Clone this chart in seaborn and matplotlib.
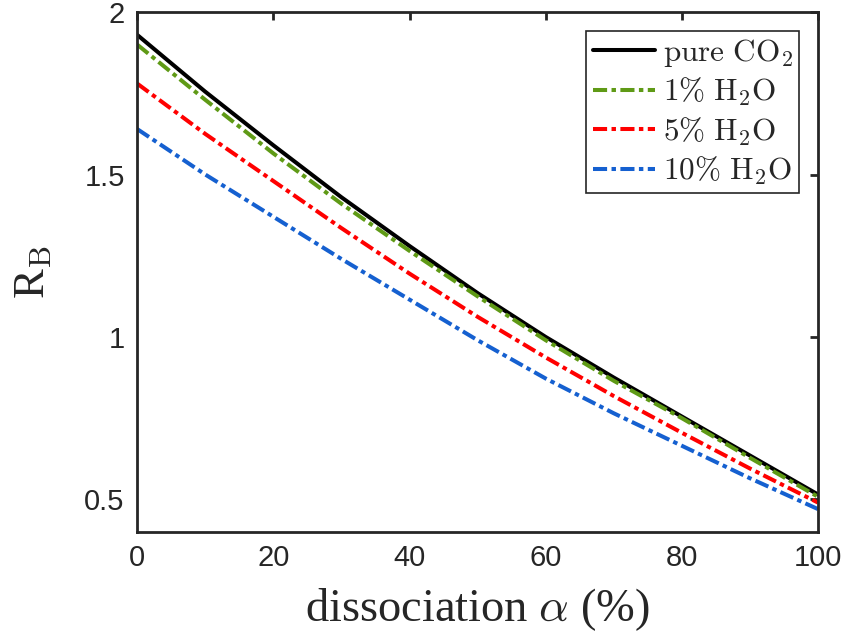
import numpy as np
import pandas as pd
import matplotlib
matplotlib.use("Agg")
import matplotlib.pyplot as plt
import seaborn as sns

alpha = [0, 10, 20, 30, 40, 50, 60, 70, 80, 90, 100]
pure_co2 = [1.93, 1.755, 1.59, 1.43, 1.28, 1.135, 1.00, 0.875, 0.755, 0.635, 0.515]
h2o_1 = [1.90, 1.73, 1.565, 1.41, 1.265, 1.125, 0.99, 0.865, 0.75, 0.628, 0.508]
h2o_5 = [1.78, 1.625, 1.48, 1.335, 1.195, 1.062, 0.937, 0.818, 0.705, 0.595, 0.49]
h2o_10 = [1.64, 1.50, 1.37, 1.24, 1.115, 0.99, 0.872, 0.765, 0.665, 0.565, 0.47]

labels = [r"$\mathrm{pure\ CO_2}$", r"$\mathrm{1\%\ H_2O}$",
          r"$\mathrm{5\%\ H_2O}$", r"$\mathrm{10\%\ H_2O}$"]
series = [pure_co2, h2o_1, h2o_5, h2o_10]
colors = ["#000000", "#5f9a16", "#ff0000", "#1560d0"]

df = pd.concat([pd.DataFrame({"alpha": alpha, "R": s, "case": lab})
                for s, lab in zip(series, labels)], ignore_index=True)

sns.set_style("white")
plt.rcParams["mathtext.fontset"] = "cm"

fig = plt.figure(figsize=(8.42, 6.4), dpi=100)
ax = fig.add_axes([0.163, 0.169, 0.8085, 0.812])

dd = (3.5, 1.1, 1.1, 1.1)
sns.lineplot(data=df, x="alpha", y="R", hue="case", style="case",
             palette=dict(zip(labels, colors)),
             dashes=dict(zip(labels, ["", dd, dd, dd])),
             hue_order=labels, style_order=labels,
             linewidth=2.9, ax=ax)

ax.set_xlim(0, 100)
ax.set_ylim(0.4, 2.0)
ax.set_xticks([0, 20, 40, 60, 80, 100])
ax.set_yticks([0.5, 1, 1.5, 2])
ax.set_yticklabels(["0.5", "1", "1.5", "2"])
for sp in ax.spines.values():
    sp.set_visible(True)
    sp.set_linewidth(2.0)
    sp.set_color("#262626")
ax.tick_params(direction="in", length=5.5, width=2.0, top=True, right=True,
               labelsize=21, colors="#262626", pad=9)
for t in ax.get_xticklabels() + ax.get_yticklabels():
    t.set_fontfamily("Liberation Sans")
    t.set_color("#262626")

ax.set_xlabel(r"dissociation $\alpha$ (%)", fontsize=33.5,
              fontfamily="Liberation Serif", labelpad=10)
ax.set_ylabel(r"R$_\mathrm{B}$", fontsize=32, fontfamily="Liberation Serif",
              labelpad=22)

leg = ax.legend(loc="upper right", fontsize=22.5, frameon=True, fancybox=False,
                edgecolor="#262626", handlelength=2.0, handletextpad=0.25,
                borderpad=0.2, labelspacing=0.22, borderaxespad=0.6)
leg.get_frame().set_linewidth(1.2)
leg.get_frame().set_alpha(1)

fig.savefig("out.png", dpi=100)
